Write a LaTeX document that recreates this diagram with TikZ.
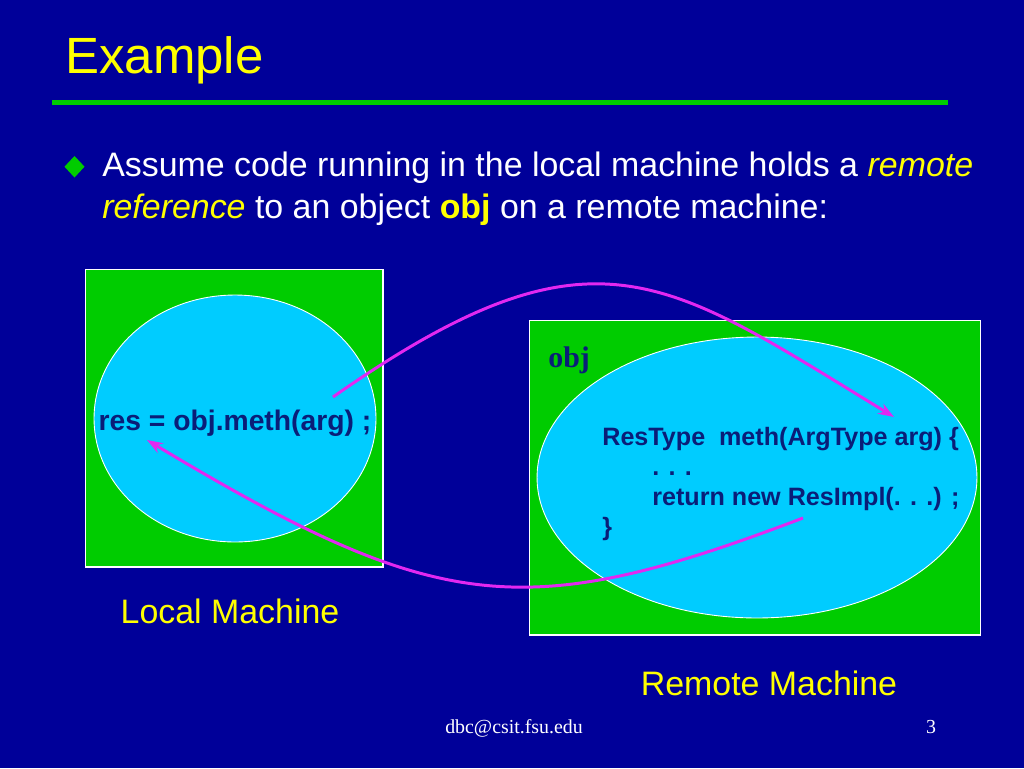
\documentclass[tikz,border=0pt]{standalone}
\usepackage{fontspec}
\setmainfont{Liberation Sans}
\newfontfamily\footserif{Liberation Serif}
\usetikzlibrary{shapes.geometric,arrows.meta,positioning}

\definecolor{slideblue}{RGB}{0,0,153}
\definecolor{slideyellow}{RGB}{255,255,0}
\definecolor{machgreen}{RGB}{0,204,0}
\definecolor{objcyan}{RGB}{0,204,255}
\definecolor{codenavy}{RGB}{10,30,120}
\definecolor{callpink}{RGB}{226,40,240}

\begin{document}
\begin{tikzpicture}[x=0.02cm, y=-0.02cm,
    machine/.style={rectangle, draw=white, line width=0.6pt, fill=machgreen, inner sep=0pt},
    objblob/.style={ellipse, draw=white, line width=0.5pt, fill=objcyan, inner sep=0pt},
    code/.style={text=codenavy, inner sep=0pt, font=\fontsize{14.3}{17}\selectfont\bfseries},
    label/.style={text=slideyellow, inner sep=0pt, font=\fontsize{19.3}{23.8}\selectfont},
    call/.style={draw=callpink, line width=1.7pt, -{Stealth[length=9pt, width=6.5pt]}}]

    % Slide background, fixes the bounding box
    \fill[slideblue] (0,0) rectangle (1024,768);

    % Title and rule
    \node[anchor=base west, inner sep=0pt, text=slideyellow,
          font=\fontsize{29}{34}\selectfont] (title) at (65,73) {Example};
    \fill[machgreen] (52,99.5) rectangle (948,105);

    % Bullet text
    \fill[machgreen] (74.5,156) -- (84.5,166.7) -- (74.5,177.5) -- (64.5,166.7) -- cycle;
    \node[label, text=white, anchor=base west] (line1) at (102,176)
        {Assume code running in the local machine holds a \textcolor{slideyellow}{\itshape remote}};
    \node[label, text=white, anchor=base west] (line2) at (102,218)
        {\textcolor{slideyellow}{\itshape reference} to an object \textcolor{slideyellow}{\bfseries obj} on a remote machine:};

    % Local machine
    \node[machine, minimum width=5.96cm, minimum height=5.96cm] (localbox) at (234,418) {};
    \node[objblob, minimum width=5.64cm, minimum height=4.94cm] (localblob) at (235,418.5) {};
    \node[code, font=\fontsize{16.1}{19}\selectfont\bfseries, anchor=base] (callcode) at (235,430)
        {res = obj.meth(arg) ;};
    \node[label, anchor=base] (locallabel) at (230,623) {Local Machine};

    % Remote machine
    \node[machine, minimum width=9.04cm, minimum height=6.3cm] (remotebox) at (755,477.5) {};
    \node[objblob, minimum width=8.8cm, minimum height=5.62cm] (remoteblob) at (757,477.5) {};
    \node[text=codenavy, inner sep=0pt, anchor=base west,
          font=\fontsize{17}{20}\selectfont\footserif\bfseries] (objname) at (548,367) {obj};
    \node[code, anchor=base west] (methline) at (602,445) {ResType\ \ meth(ArgType arg) \{};
    \node[code, anchor=base west] (dotsline) at (652,475) {. . .};
    \node[code, anchor=base west] (returnline) at (652,505) {return new ResImpl(. . .) ;};
    \node[code, anchor=base west] (closeline) at (602,535) {\}};
    \node[label, anchor=base] (remotelabel) at (769,695) {Remote Machine};

    % Call and return arrows
    \coordinate (callstart) at (333,397);
    \coordinate (callend) at (894,417);
    \coordinate (retstart) at (803,518);
    \coordinate (retend) at (147,440);
    \draw[call] (callstart) .. controls (593,215) and (664,276.7) .. (callend);
    \draw[call] (retstart) .. controls (523,624.4) and (437,614) .. (retend);

    % Footer
    \node[text=white, inner sep=0pt, anchor=base, font=\fontsize{11.3}{13}\selectfont\footserif]
        (footer) at (514,733) {dbc@csit.fsu.edu};
    \node[text=white, inner sep=0pt, anchor=base, font=\fontsize{11.3}{13}\selectfont\footserif]
        (pagenum) at (931,733) {3};
\end{tikzpicture}
\end{document}
